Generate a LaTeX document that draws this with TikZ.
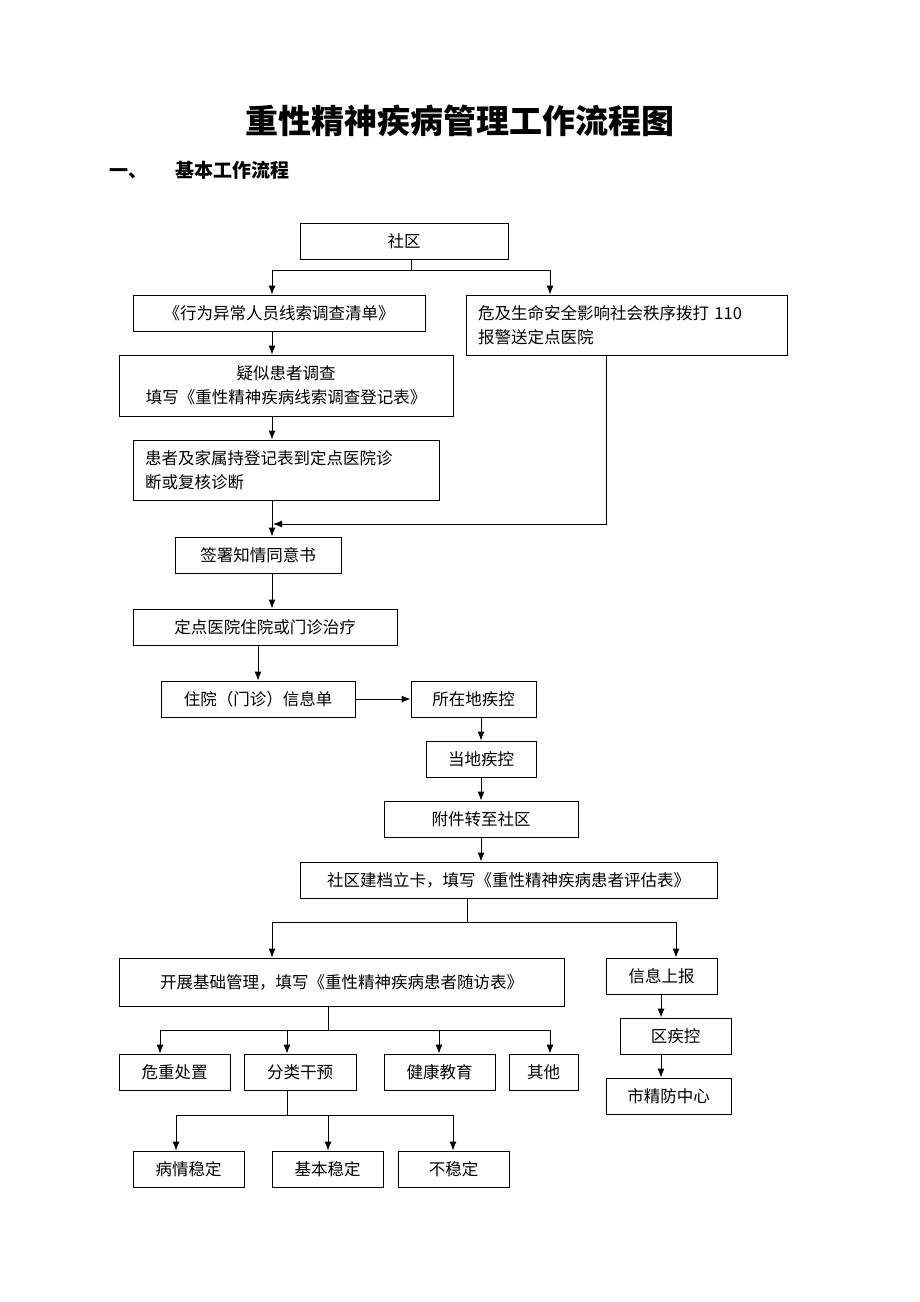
\documentclass[tikz,border=0pt]{standalone}
\usepackage{fontspec}
\setmainfont{Noto Sans CJK SC}
\usetikzlibrary{arrows.meta}
\begin{document}
\begin{tikzpicture}[x=1pt,y=-1pt,
  box/.style={draw,line width=0.9pt,inner sep=0pt,font=\fontsize{16.5}{24}\selectfont},
  arr/.style={line width=0.9pt,-{Latex[length=9pt,width=7pt]}},
  ln/.style={line width=0.9pt}]
\useasboundingbox[fill=white] (0,0) rectangle (920,1302);
\newcommand\bx[7][align=center]{\node[box,#1,minimum width={(#4-#2)*1pt},minimum height={(#5-#3)*1pt},text width={(#4-#2-24)*1pt}] (#7) at ({(#2+#4)/2},{(#3+#5)/2}) {#6};}
\node[font=\bfseries\fontsize{33}{36}\selectfont] (title) at (460,121) {重性精神疾病管理工作流程图};
\node[font=\bfseries\fontsize{19}{22}\selectfont,anchor=west] (sub) at (106,170) {一、\hspace{28pt}基本工作流程};
\bx{300}{223}{508}{259}{社区}{sq}
\bx{133}{295}{425}{331}{《行为异常人员线索调查清单》}{xw}
\bx[align=left]{466}{295}{787}{355}{危及生命安全影响社会秩序拨打 110\\报警送定点医院}{wj}
\bx{119}{355}{453}{416}{疑似患者调查\\填写《重性精神疾病线索调查登记表》}{ys}
\bx[align=left]{133}{440}{439}{500}{患者及家属持登记表到定点医院诊\\断或复核诊断}{hz}
\bx{175}{537}{341}{573}{签署知情同意书}{qs}
\bx{133}{609}{397}{645}{定点医院住院或门诊治疗}{dd}
\bx{161}{681}{355}{717}{住院（门诊）信息单}{zy}
\bx{411}{681}{536}{717}{所在地疾控}{szd}
\bx{426}{741}{536}{777}{当地疾控}{ddjk}
\bx{384}{801}{578}{837}{附件转至社区}{fj}
\bx{300}{862}{717}{898}{社区建档立卡，填写《重性精神疾病患者评估表》}{jd}
\bx{119}{958}{564}{1006}{开展基础管理，填写《重性精神疾病患者随访表》}{kz}
\bx{606}{958}{717}{994}{信息上报}{xx}
\bx{620}{1018}{731}{1054}{区疾控}{qjk}
\bx{606}{1078}{731}{1114}{市精防中心}{sjf}
\bx{119}{1054}{230}{1090}{危重处置}{wz}
\bx{244}{1054}{356}{1090}{分类干预}{fl}
\bx{384}{1054}{495}{1090}{健康教育}{jk}
\bx{509}{1054}{578}{1090}{其他}{qt}
\bx{133}{1151}{244}{1187}{病情稳定}{bq}
\bx{272}{1151}{383}{1187}{基本稳定}{jb}
\bx{398}{1151}{509}{1187}{不稳定}{bw}
% connectors
\draw[arr] (411,0 |- sq.south) -- (411,270) -| (272,0 |- xw.north);
\draw[arr] (411,0 |- sq.south) -- (411,270) -| (550,0 |- wj.north);
\draw[arr] (272,0 |- xw.south) -- (272,0 |- ys.north);
\draw[arr] (272,0 |- ys.south) -- (272,0 |- hz.north);
\draw[arr] (272,0 |- hz.south) -- (272,0 |- qs.north);
\draw[arr] (606,0 |- wj.south) |- (273,524);
\draw[arr] (272,0 |- qs.south) -- (272,0 |- dd.north);
\draw[arr] (258,0 |- dd.south) -- (258,0 |- zy.north);
\draw[arr] (zy.east) -- (szd.west);
\draw[arr] (481,0 |- szd.south) -- (481,0 |- ddjk.north);
\draw[arr] (481,0 |- ddjk.south) -- (481,0 |- fj.north);
\draw[arr] (481,0 |- fj.south) -- (481,0 |- jd.north);
\draw[arr] (467,0 |- jd.south) -- (467,922) -| (272,0 |- kz.north);
\draw[arr] (467,922) -| (676,0 |- xx.north);
\draw[arr] (661,0 |- xx.south) -- (661,0 |- qjk.north);
\draw[arr] (661,0 |- qjk.south) -- (661,0 |- sjf.north);
\draw[arr] (328,0 |- kz.south) -- (328,1030) -| (160,0 |- wz.north);
\draw[arr] (328,1030) -| (287,0 |- fl.north);
\draw[arr] (328,1030) -| (439,0 |- jk.north);
\draw[arr] (328,1030) -| (550,0 |- qt.north);
\draw[arr] (287,0 |- fl.south) -- (287,1115) -| (176,0 |- bq.north);
\draw[arr] (287,1115) -| (328,0 |- jb.north);
\draw[arr] (287,1115) -| (453,0 |- bw.north);
\end{tikzpicture}
\end{document}
